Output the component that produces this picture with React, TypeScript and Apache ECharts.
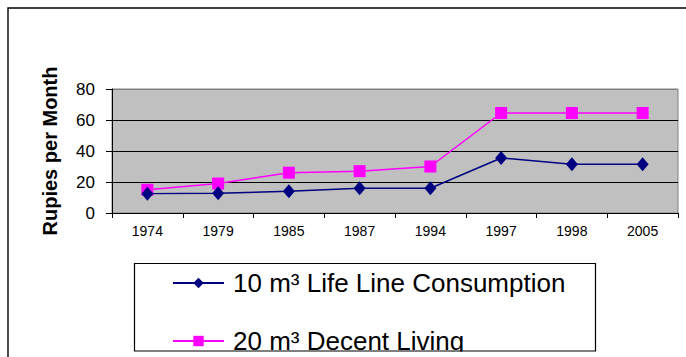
import React, { useEffect, useRef } from "react";
import * as echarts from "echarts";

const years = ["1974", "1979", "1985", "1987", "1994", "1997", "1998", "2005"];
const lifeLine = [12.5, 12.8, 14, 16, 16, 35.5, 31.5, 31.5];
const decentLiving = [15, 19, 26, 27, 30, 64.5, 64.5, 64.5];
const seriesNames = ["10 m³ Life Line Consumption", "20 m³ Decent Living"];
const yAxisTitle = "Rupies per Month";

const FONT = "'Liberation Sans', Arial, sans-serif";

export default function App() {
  const ref = useRef<HTMLDivElement>(null);
  useEffect(() => {
    if (!ref.current) return;
    const chart = echarts.init(ref.current, undefined, { renderer: "svg" });
    chart.setOption({
      animation: false,
      backgroundColor: "#ffffff",
      grid: {
        left: 112,
        right: 8,
        top: 89,
        height: 124,
        containLabel: false,
        outerBoundsMode: "none",
        show: true,
        backgroundColor: "#C0C0C0",
        borderColor: "#808080",
        borderWidth: 1,
      },
      xAxis: {
        type: "category",
        data: years,
        boundaryGap: true,
        axisLine: { show: true, lineStyle: { color: "#000", width: 1 } },
        axisTick: { show: true, length: 5, alignWithLabel: false, lineStyle: { color: "#000" } },
        axisLabel: { fontSize: 14, color: "#000", fontFamily: FONT, margin: 11, interval: 0 },
        splitLine: { show: false },
      },
      yAxis: {
        type: "value",
        min: 0,
        max: 80,
        interval: 20,
        name: yAxisTitle,
        nameLocation: "middle",
        nameGap: 52,
        nameRotate: 90,
        nameTextStyle: { fontSize: 20, fontWeight: "bold", color: "#000", fontFamily: FONT },
        axisLine: { show: true, lineStyle: { color: "#000", width: 1 } },
        axisTick: { show: true, length: 6, lineStyle: { color: "#000" } },
        axisLabel: { fontSize: 17, color: "#000", fontFamily: FONT, margin: 17 },
        splitLine: {
          show: true,
          lineStyle: { color: ["#000", "#000", "#000", "#000", "#808080"], width: 1 },
        },
      },
      legend: {
        orient: "vertical",
        left: 172,
        top: 268,
        itemWidth: 51,
        itemHeight: 13,
        itemGap: 28,
        padding: 0,
        textStyle: {
          fontSize: 26,
          color: "#000",
          fontFamily: FONT,
          lineHeight: 30,
          padding: [0, 0, 0, 4],
        },
        data: seriesNames,
      },
      series: [
        {
          name: seriesNames[0],
          type: "line",
          data: lifeLine,
          symbol: "diamond",
          symbolSize: [12, 14],
          lineStyle: { color: "#000080", width: 1.5 },
          itemStyle: { color: "#000080" },
          z: 3,
        },
        {
          name: seriesNames[1],
          type: "line",
          data: decentLiving,
          symbol: "rect",
          symbolSize: 12,
          lineStyle: { color: "#FF00FF", width: 1.5 },
          itemStyle: { color: "#FF00FF" },
          z: 2,
        },
      ],
      graphic: [
        {
          type: "rect",
          z: 0,
          silent: true,
          shape: { x: 8, y: 8, width: 760, height: 420 },
          style: { fill: "none", stroke: "#000", lineWidth: 1.4 },
        },
        {
          type: "rect",
          z: 100,
          silent: true,
          shape: { x: 133, y: 351.5, width: 465, height: 10 },
          style: { fill: "#ffffff", stroke: "none" },
        },
        {
          type: "rect",
          z: 101,
          silent: true,
          shape: { x: 134.5, y: 263.5, width: 461, height: 87.5 },
          style: { fill: "none", stroke: "#000", lineWidth: 1.2 },
        },
      ],
    });
    return () => chart.dispose();
  }, []);
  return (
    <div
      ref={ref}
      style={{ position: "fixed", left: 0, top: 0, width: 686, height: 357, background: "#fff" }}
    />
  );
}
